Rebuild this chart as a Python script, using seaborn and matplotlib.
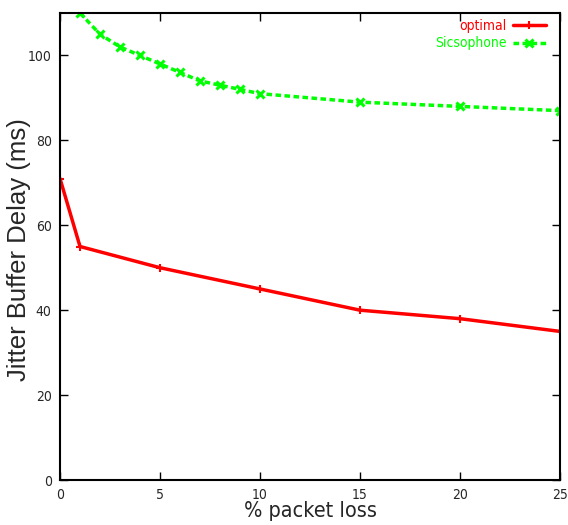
import matplotlib
matplotlib.use("Agg")
import matplotlib.pyplot as plt
import seaborn as sns
import pandas as pd

opt_x = [0, 1, 5, 10, 15, 20, 25]
opt_y = [71, 55, 50, 45, 40, 38, 35]
sic_x = [1, 2, 3, 4, 5, 6, 7, 8, 9, 10, 15, 20, 25]
sic_y = [110, 105, 102, 100, 98, 96, 94, 93, 92, 91, 89, 88, 87]
xticks = [0, 5, 10, 15, 20, 25]
yticks = [0, 20, 40, 60, 80, 100]

sns.set_theme(style="ticks")
plt.rcParams['font.family'] = ['DejaVu Sans']
plt.rcParams['font.stretch'] = 'condensed'

fig = plt.figure(figsize=(5.68, 5.25), dpi=100)
ax = fig.add_axes([60/568, 1-480/525, 500/568, 467/525])

df_opt = pd.DataFrame({"x": opt_x, "y": opt_y})
df_sic = pd.DataFrame({"x": sic_x, "y": sic_y})
sns.lineplot(data=df_opt, x="x", y="y", ax=ax, color="#ff0000", lw=2.5,
             marker="+", markersize=6, mew=1.5, markeredgecolor="#ff0000", label="optimal")
sns.lineplot(data=df_sic, x="x", y="y", ax=ax, color="#00ff00", lw=2.5,
             marker="x", markersize=5.5, mew=2.2, markeredgecolor="#00ff00",
             linestyle=(0, (1.6, 1.0)), label="Sicsophone")

ax.set_xlim(0, 25)
ax.set_ylim(0, 110)
ax.set_xticks(xticks)
ax.set_yticks(yticks)
ax.tick_params(direction="in", top=True, right=True, length=6, width=1, labelsize=10, pad=6, color="black")
for s in ax.spines.values():
    s.set_linewidth(1.5)
    s.set_color("black")
ax.set_xlabel("% packet loss", fontsize=15.5, labelpad=-1)
ax.set_ylabel("Jitter Buffer Delay (ms)", fontsize=18.5,
              fontfamily="Liberation Sans", fontstretch="normal")
ax.yaxis.set_label_coords(-0.058, 0.4925)

leg = ax.legend(loc="upper right", frameon=False, markerfirst=False, fontsize=10,
                handlelength=2.4, handletextpad=0.45, borderpad=0, borderaxespad=0,
                labelspacing=0.25, bbox_to_anchor=((546-60)/500, (480-19)/467))
for t, c in zip(leg.get_texts(), ["#ff0000", "#00ff00"]):
    t.set_color(c)

fig.savefig("out.png", dpi=100)
